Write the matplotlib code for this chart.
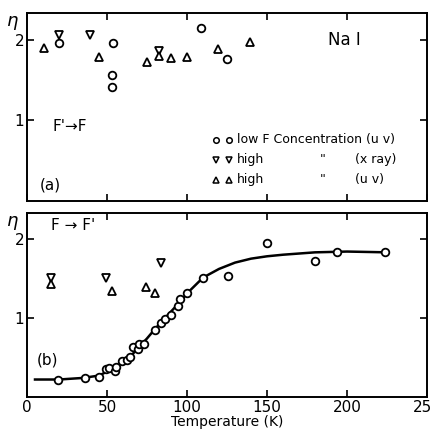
import matplotlib
matplotlib.use("Agg")
import matplotlib.pyplot as plt

plt.rcParams['font.family'] = ['DejaVu Sans']

# panel (a): F' -> F
a_circ_T = [20, 53.6, 53.2, 53, 109, 125]
a_circ_eta = [1.96, 1.96, 1.56, 1.41, 2.14, 1.76]
a_down_T = [20, 39.5, 82.8]
a_down_eta = [2.05, 2.05, 1.86]
a_up_T = [10.5, 44.7, 75, 82.8, 90.3, 99.9, 119.3, 139.5]
a_up_eta = [1.89, 1.78, 1.72, 1.80, 1.77, 1.78, 1.88, 1.97]

# panel (b): F -> F'
b_circ_T = [19.3, 36.4, 44.7, 49.5, 51.5, 54.7, 55.7, 59.3, 62.6, 64.6, 66.1,
            69.3, 70.3, 73, 80.1, 83.6, 86.3, 90.1, 94.1, 95.5, 99.9, 110.3,
            125.5, 149.9, 180.1, 193.9, 223.9]
b_circ_eta = [0.22, 0.24, 0.25, 0.35, 0.37, 0.33, 0.38, 0.45, 0.47, 0.51, 0.63,
              0.60, 0.67, 0.67, 0.85, 0.94, 0.98, 1.04, 1.15, 1.24, 1.31, 1.51,
              1.53, 1.95, 1.72, 1.84, 1.83]
b_down_T = [14.7, 49.5, 83.9]
b_down_eta = [1.51, 1.50, 1.70]
b_up_T = [14.7, 53, 74.1, 79.7]
b_up_eta = [1.43, 1.34, 1.39, 1.32]

# fitted curve (traced)
curve_T = [5, 20, 35, 45, 50, 55, 60, 65, 70, 75, 80, 85, 90, 95, 100, 105,
           110, 120, 130, 140, 150, 160, 180, 200, 225]
curve_eta = [0.22, 0.22, 0.24, 0.27, 0.32, 0.37, 0.44, 0.52, 0.63, 0.74, 0.86,
             0.97, 1.08, 1.19, 1.31, 1.41, 1.51, 1.62, 1.70, 1.75, 1.78, 1.80,
             1.83, 1.84, 1.83]

mk = dict(linestyle='none', mfc='white', mec='black', mew=1.3, ms=5.5)

fig = plt.figure(figsize=(4.32, 4.30), dpi=100)
ax_a = fig.add_axes([0.0625, 0.533, 0.926, 0.437])
ax_b = fig.add_axes([0.0625, 0.077, 0.926, 0.428])

for ax in (ax_a, ax_b):
    ax.set_xlim(0, 250)
    ax.set_ylim(0, 2.33)
    ax.set_xticks([0, 50, 100, 150, 200, 250])
    ax.set_yticks([1, 2])
    ax.tick_params(direction='in', top=True, right=True, length=5, width=1.2,
                   labelsize=11, pad=2)
    for s in ax.spines.values():
        s.set_linewidth(1.4)
    ax.text(-0.035, 0.955, 'η', transform=ax.transAxes, fontsize=13,
            ha='center', va='center', style='italic')

ax_a.tick_params(labelbottom=False)

ax_a.plot(a_circ_T, a_circ_eta, marker='o', **mk)
ax_a.plot(a_down_T, a_down_eta, marker='v', **mk)
ax_a.plot(a_up_T, a_up_eta, marker='^', **mk)

ax_b.plot(curve_T, curve_eta, color='black', lw=1.8, zorder=1)
ax_b.plot(b_circ_T, b_circ_eta, marker='o', zorder=2, **mk)
ax_b.plot(b_down_T, b_down_eta, marker='v', **mk)
ax_b.plot(b_up_T, b_up_eta, marker='^', **mk)

ax_a.text(188, 2.0, 'Na I', fontsize=12, va='center')
ax_a.text(16, 0.92, "F'→F", fontsize=11, va='center')
ax_a.text(8, 0.2, '(a)', fontsize=11, va='center')

# legend drawn by hand
leg_y = [0.76, 0.51, 0.26]
leg_m = ['o', 'v', '^']
leg_txt = ['low F Concentration (u v)', 'high', 'high']
leg_src = ['', '(x ray)', '(u v)']
for y, m, t, src in zip(leg_y, leg_m, leg_txt, leg_src):
    ax_a.plot([118, 126], [y, y], marker=m, linestyle='none', mfc='white',
              mec='black', mew=1.1, ms=4)
    ax_a.text(131, y, t, fontsize=9, va='center')
    if src:
        ax_a.text(183, y, '"', fontsize=9, va='center')
        ax_a.text(205, y, src, fontsize=9, va='center')

ax_b.text(15, 2.17, "F → F'", fontsize=11, va='center')
ax_b.text(6, 0.47, '(b)', fontsize=11, va='center')
ax_b.set_xlabel('Temperature (K)', fontsize=10, labelpad=0)

fig.savefig('out.png', dpi=100)
